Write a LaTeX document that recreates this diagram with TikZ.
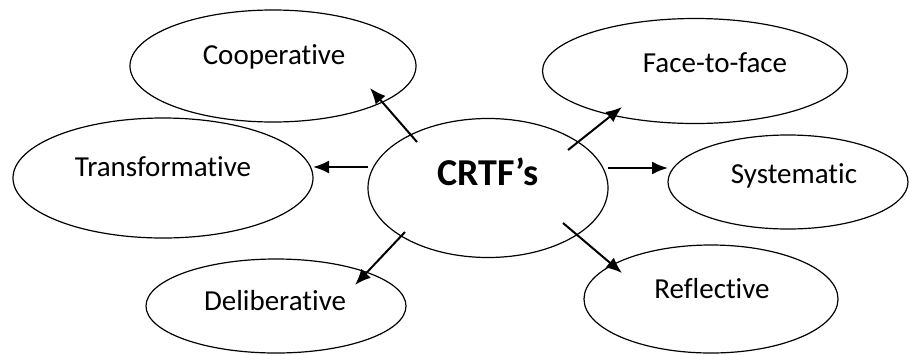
\documentclass[tikz,border=0pt]{standalone}
\usepackage{fontspec}
\setmainfont[Ligatures=NoCommon]{Carlito}
\usetikzlibrary{shapes.geometric,arrows.meta}
\begin{document}
\begin{tikzpicture}[x=1pt,y=-1pt,
  oval/.style={ellipse,draw,line width=1.2pt,inner sep=0pt},
  lbl/.style={font=\fontsize{29}{33}\selectfont,inner sep=0pt},
  conn/.style={line width=2pt,-{Latex[length=16pt,width=13pt]}}]
\useasboundingbox (0,0) rectangle (909,354);
% ellipses
\node[oval,minimum width=286pt,minimum height=112pt] (coop) at (273,66) {};
\node[oval,minimum width=300pt,minimum height=120pt] (trans) at (163,178) {};
\node[oval,minimum width=240pt,minimum height=139pt] (crtf) at (488,188) {};
\node[oval,minimum width=305pt,minimum height=105pt] (face) at (695,71) {};
\node[oval,minimum width=240pt,minimum height=94pt] (syst) at (788,182) {};
\node[oval,minimum width=260pt,minimum height=94pt] (delib) at (276,306) {};
\node[oval,minimum width=254pt,minimum height=108pt] (refl) at (711,299) {};
% labels
\node[lbl] (tcoop) at (274,57) {Cooperative};
\node[lbl] (ttrans) at (163,167) {Transformative};
\node[font=\fontsize{38}{42}\selectfont\bfseries,inner sep=0pt] (tcrtf) at (488,172) {CRTF’s};
\node[lbl] (tface) at (715,63) {Face-to-face};
\node[lbl] (tsyst) at (794,176) {Systematic};
\node[lbl] (tdelib) at (275,301) {Deliberative};
\node[lbl] (trefl) at (712,289) {Reflective};
% connector ends
\coordinate (s1) at (417,142); \coordinate (e1) at (370,88);
\coordinate (s2) at (368,167); \coordinate (e2) at (313,167);
\coordinate (s3) at (568,150); \coordinate (e3) at (622,107);
\coordinate (s4) at (608,168); \coordinate (e4) at (668,168);
\coordinate (s5) at (405,232); \coordinate (e5) at (355,285);
\coordinate (s6) at (563,223); \coordinate (e6) at (622,273);
\draw[conn] (s1) -- (e1);
\draw[conn] (s2) -- (e2);
\draw[conn] (s3) -- (e3);
\draw[conn] (s4) -- (e4);
\draw[conn] (s5) -- (e5);
\draw[conn] (s6) -- (e6);
\end{tikzpicture}
\end{document}
